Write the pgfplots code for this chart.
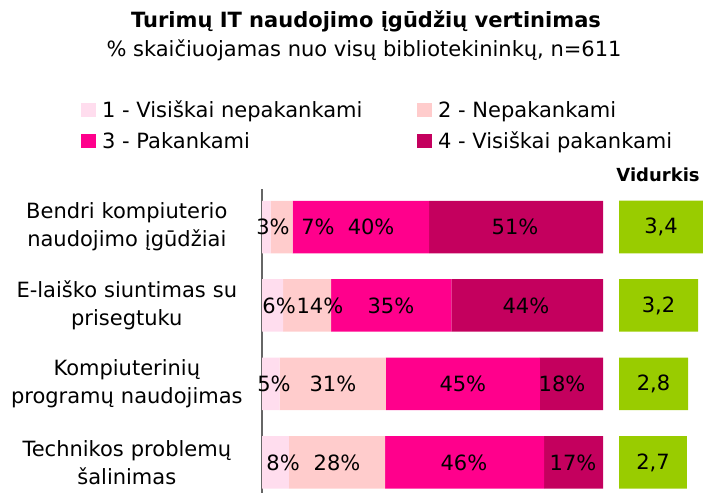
\documentclass[border=0pt]{standalone}
\usepackage{fontspec}
\setmainfont{DejaVu Sans}
\usepackage{pgfplots}
\pgfplotsset{compat=1.18}

\definecolor{c1}{HTML}{FFDDEE}
\definecolor{c2}{HTML}{FFCCCC}
\definecolor{c3}{HTML}{FF008C}
\definecolor{c4}{HTML}{C4005E}
\definecolor{vid}{HTML}{99CC00}
\newcommand\lf{\fontsize{21}{28}\selectfont}

% shared vertical layout of the four rows
\pgfplotsset{rowgrid/.style={scale only axis, height=304pt, ymin=-0.484, ymax=3.389, y dir=reverse, anchor=north west}}

\begin{document}
\begin{tikzpicture}
\useasboundingbox (0pt,0pt) rectangle (706pt,-493pt);
\node[anchor=base, font=\lf\bfseries] at (366pt,-27pt) {Turimų IT naudojimo įgūdžių vertinimas};
\node[anchor=base, font=\lf] at (364pt,-56pt) {\% skaičiuojamas nuo visų bibliotekininkų, n=611};
\node[anchor=base, font=\fontsize{18}{22}\selectfont\bfseries] at (658pt,-181pt) {Vidurkis};

% stacked shares
\begin{axis}[rowgrid, at={(262pt,-189pt)}, width=341pt,
  xmin=0, xmax=100, xbar stacked, bar width=52.5pt,
  axis x line=none, axis y line=left,
  axis line style={-, draw=black!60, line width=1.2pt},
  ytick={0,1,2,3}, major tick length=0pt,
  yticklabels={{Bendri kompiuterio\\naudojimo įgūdžiai},{E-laiško siuntimas su\\prisegtuku},{Kompiuterinių\\programų naudojimas},{Technikos problemų\\šalinimas}},
  yticklabel style={font=\lf, text width=256pt, align=center, inner sep=0pt, xshift=-7pt},
  legend columns=2,
  legend image code/.code={\fill[#1] (0pt,-6pt) rectangle (15pt,8pt);},
  legend style={draw=none, fill=none, inner sep=0pt, row sep=7pt,
    at={(axis description cs:-0.5308,1.296)}, anchor=north west,
    nodes={font=\lf, inner sep=2pt, text height=16pt, text depth=4pt},
    cells={anchor=west},
    /tikz/every odd column/.append style={column sep=4pt},
    /tikz/every even column/.append style={column sep=43pt}},
]
\addplot[fill=c1, draw=none] coordinates {(2.5,0) (6.2,1) (5.2,2) (7.9,3)};
\addlegendentry{\makebox[270pt][l]{1 - Visiškai nepakankami}}
\addplot[fill=c2, draw=none] coordinates {(6.5,0) (14.1,1) (31.1,2) (28.2,3)};
\addlegendentry{2 - Nepakankami}
\addplot[fill=c3, draw=none] coordinates {(40.0,0) (35.2,1) (45.2,2) (46.6,3)};
\addlegendentry{\makebox[270pt][l]{3 - Pakankami}}
\addplot[fill=c4, draw=none] coordinates {(51.0,0) (44.5,1) (18.5,2) (17.3,3)};
\addlegendentry{4 - Visiškai pakankami}
\end{axis}

% percentage labels
\begin{axis}[rowgrid, at={(262pt,-189pt)}, width=341pt,
  xmin=0, xmax=100, hide axis, clip=false,
  nodes near coords, point meta=explicit symbolic,
  every node near coord/.append style={font=\lf, anchor=center, inner sep=0pt}]
\addplot[draw=none] coordinates {
  (3.2,0) [3\%] (16.4,0) [7\%] (32.0,0) [40\%] (74.2,0) [51\%]
  (5.0,1) [6\%] (17.0,1) [14\%] (37.8,1) [35\%] (77.4,1) [44\%]
  (3.5,2) [5\%] (20.8,2) [31\%] (58.9,2) [45\%] (88.0,2) [18\%]
  (6.2,3) [8\%] (22.0,3) [28\%] (59.2,3) [46\%] (91.2,3) [17\%]};
\end{axis}

% means
\begin{axis}[rowgrid, at={(619pt,-189pt)}, width=98.8pt,
  xmin=0, xmax=4, hide axis, clip=false]
\addplot[xbar, bar width=52.5pt, bar shift=0pt, fill=vid, draw=none]
  coordinates {(3.40,0) (3.20,1) (2.80,2) (2.75,3)};
\addplot[draw=none, nodes near coords, point meta=explicit symbolic,
  every node near coord/.append style={font=\lf, anchor=center, inner sep=0pt}]
  coordinates {(1.70,0) [{3,4}] (1.60,1) [{3,2}] (1.40,2) [{2,8}] (1.375,3) [{2,7}]};
\end{axis}
\end{tikzpicture}
\end{document}
